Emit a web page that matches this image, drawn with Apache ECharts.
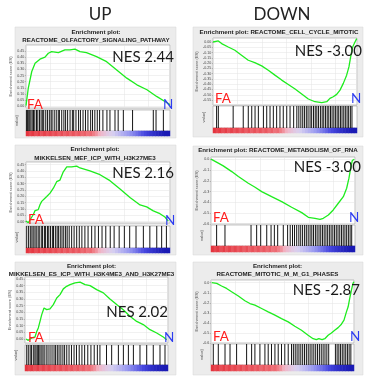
<!DOCTYPE html>
<html>
<head>
<meta charset="utf-8">
<script src="https://cdn.jsdelivr.net/npm/echarts@6/dist/echarts.min.js"></script>
<style>
  html, body { margin: 0; padding: 0; background: #fff; }
  #chart { width: 371px; height: 377px; }
</style>
</head>
<body>
<div id="chart"></div>
<script>
// --- data ---
const columnTitles = ['UP', 'DOWN'];
const groupLabels = ['FA', 'N'];
const setNames = [
  'REACTOME_OLFACTORY_SIGNALING_PATHWAY',
  'REACTOME_CELL_CYCLE_MITOTIC',
  'MIKKELSEN_MEF_ICP_WITH_H3K27ME3',
  'REACTOME_METABOLISM_OF_RNA',
  'MIKKELSEN_ES_ICP_WITH_H3K4ME3_AND_H3K27ME3',
  'REACTOME_MITOTIC_M_M_G1_PHASES'
];
const nesValues = [2.44, -3.00, 2.16, -3.00, 2.02, -2.87];

// running enrichment score: [position in ranked list (%), ES]
const esOlfactory = [[0,0.006],[1.6,0.149],[4,0.283],[6.3,0.35],[9.7,0.383],[13.2,0.399],[15.5,0.431],[17.8,0.444],[22.5,0.436],[27,0.458],[30.5,0.458],[34,0.464],[35.2,0.472],[37.5,0.444],[42,0.436],[49,0.404],[56,0.363],[63,0.296],[70,0.229],[77,0.175],[84,0.135],[90.7,0.081],[96.5,0.04],[100,0.014]];
const esCellCycle = [[0,0],[3.7,0.01],[6,-0.015],[10.6,-0.047],[15.2,-0.078],[19.8,-0.125],[24.5,-0.173],[29,-0.195],[33.8,-0.226],[38.4,-0.267],[43,-0.314],[47.7,-0.361],[52.3,-0.402],[57,-0.446],[61.6,-0.493],[66.2,-0.54],[70.8,-0.566],[75.5,-0.575],[79,-0.566],[81.2,-0.534],[83.5,-0.519],[85.9,-0.496],[88.2,-0.456],[90.5,-0.392],[92.8,-0.314],[94.4,-0.236],[95.6,-0.141],[97,-0.047],[98.6,0],[99.8,0.032]];
const esMefIcp = [[0,0.005],[1.6,-0.008],[2.8,0],[5.1,0.057],[6.3,0.088],[8.5,0.095],[9.7,0.134],[10.9,0.16],[12,0.173],[14.4,0.199],[16.7,0.225],[19,0.264],[21.3,0.315],[23.6,0.328],[25.9,0.393],[28.3,0.431],[29.4,0.439],[31.7,0.431],[35.2,0.437],[37.5,0.423],[44.4,0.4],[51.4,0.37],[58.3,0.323],[65.3,0.257],[72.2,0.19],[79.2,0.132],[83.8,0.117],[88.4,0.085],[93,0.063],[96.5,0.037],[98.8,0.005]];
const esRna = [[0,0],[5.1,-0.037],[8.5,-0.062],[9.7,-0.074],[14.4,-0.115],[19,-0.161],[25.9,-0.223],[30.6,-0.26],[35.2,-0.3],[42.1,-0.347],[49.1,-0.393],[56,-0.445],[63,-0.495],[67.6,-0.538],[72.2,-0.547],[75.7,-0.557],[78,-0.547],[81.5,-0.517],[84.9,-0.47],[88.4,-0.408],[91.9,-0.347],[94.2,-0.269],[95.8,-0.176],[97,-0.083],[98.1,-0.013],[99.5,0]];
const esEsIcp = [[0.7,0],[2.3,-0.01],[4.7,0.008],[7,0.015],[8.2,0.057],[9.3,0.083],[10.5,0.132],[11.7,0.183],[13.3,0.233],[15.2,0.22],[17.5,0.226],[19.8,0.258],[22.2,0.308],[24.5,0.333],[26.8,0.376],[29.1,0.395],[31.5,0.408],[35,0.421],[38.5,0.426],[42,0.408],[45.5,0.4],[50.1,0.37],[54.8,0.346],[59.4,0.3],[64.1,0.258],[68.7,0.22],[73.4,0.17],[78.1,0.132],[82.7,0.108],[87.4,0.07],[92.1,0.045],[96.7,0.015],[99.1,-0.005]];
const esMitoticM = [[0.5,0],[4,-0.007],[7.4,-0.033],[10.9,-0.057],[14.4,-0.09],[19.1,-0.133],[23.7,-0.18],[27.2,-0.207],[30.7,-0.223],[35.4,-0.257],[40,-0.29],[44.7,-0.323],[49.3,-0.357],[54,-0.39],[58.6,-0.433],[63.3,-0.473],[67.9,-0.523],[71.4,-0.557],[73.7,-0.567],[75.4,-0.557],[77.7,-0.567],[79.6,-0.557],[81.9,-0.523],[84.2,-0.5],[86.5,-0.473],[88.9,-0.447],[91.2,-0.413],[93,-0.373],[94.7,-0.29],[95.9,-0.24],[97,-0.157],[98.2,-0.073],[99.3,-0.007],[100,0.01]];

// gene set hits (position in ranked list, %)
const hitsOlfactory = [0.4,1.1,1.9,2.6,3.4,4.3,5.2,6.1,7.3,8.2,9.4,10.5,11.6,12.3,13.7,14.9,16.2,17.4,18.1,19.6,21.0,22.4,23.2,24.8,26.3,27.5,28.9,30.6,32.2,33.1,34.7,36.5,37.8,39.6,41.3,43.0,44.9,46.2,47.8,49.5,51.1,53.4,56.2,58.3,61.8,64.0,67.6,74.0,88.4,90.3,95.4];
const hitsCellCycle = [2.5,3.7,14.0,21.0,24.5,26.9,29.2,31.5,35.0,37.3,39.6,41.9,44.2,46.5,48.8,51.2,53.5,56.0,58.2,59.6,61.0,62.3,63.5,64.8,66.0,67.4,68.5,69.8,71.0,72.1,73.3,74.6,75.8,76.9,78.1,79.3,80.4,81.6,82.7,83.9,85.0,86.2,87.3,88.5,89.6,90.8,91.9,93.1,94.2,95.4,96.5];
const hitsMefIcp = [0.5,1.8,3.0,4.1,5.0,6.2,7.1,8.4,9.2,10.6,11.5,12.8,13.6,14.9,15.8,17.0,18.3,19.1,20.4,21.6,22.5,23.8,25.0,26.2,27.5,28.6,30.0,31.7,33.4,35.2,37.0,38.8,40.9,43.1,45.6,47.9,50.3,52.8,55.4,58.5,61.2,64.7,68.3,72.0,76.4,81.5,86.0,90.8,94.2,97.5];
const hitsRna = [3.9,9.7,27.8,31.7,34.5,38.7,41.7,44.0,46.3,50.2,53.2,55.0,56.6,58.0,59.5,61.0,62.3,63.6,65.0,66.2,67.5,68.8,70.0,71.2,72.5,73.7,75.0,76.2,77.4,78.6,79.8,81.0,82.2,83.4,84.6,85.8,87.0,88.2,89.4,90.6,91.8,93.0,94.2,95.4,96.6,97.7];
const hitsEsIcp = [1.2,2.3,3.6,4.5,5.8,6.9,7.7,8.6,9.5,10.4,11.3,12.5,13.4,14.8,16.1,17.5,18.9,20.3,21.4,22.6,23.8,25.1,26.5,27.7,29.2,30.8,32.5,34.3,36.0,37.9,39.8,41.7,43.9,46.1,48.4,50.6,52.4,57.0,60.6,65.3,68.8,72.3,75.8,80.4,85.1,89.7,94.4,97.9];
const hitsMitoticM = [1.6,5.1,9.8,13.3,17.9,24.9,28.4,30.7,34.2,37.7,40.0,42.3,44.7,47.0,49.3,51.6,54.0,56.3,57.6,58.9,60.2,61.5,62.8,64.1,65.4,66.7,68.0,69.3,70.6,71.9,73.2,74.5,75.8,77.1,78.4,79.7,81.0,82.3,87.0,88.2,89.4,90.6,91.8,93.0,94.2,95.4,96.6,97.8];

// ranked list metric, binned (FA positive -> N negative)
const rankBins = Array.from({ length: 50 }, (_, i) => i);
const rankMetric = [1.0,0.9,0.97,0.86,0.95,0.84,0.92,0.82,0.9,0.8,0.88,0.78,0.86,0.76,0.84,0.74,0.82,0.72,0.8,0.7,0.76,0.66,0.7,0.6,0.5,0.36,0.26,0.18,0.1,0.04,-0.02,-0.08,-0.14,-0.2,-0.26,-0.32,-0.38,-0.44,-0.5,-0.56,-0.62,-0.68,-0.74,-0.8,-0.85,-0.9,-0.94,-0.97,-0.99,-1.0];

// y tick labels
const esTicksUp = [0, 0.05, 0.1, 0.15, 0.2, 0.25, 0.3, 0.35, 0.4, 0.45];
const esTicksDownFine = [0, -0.05, -0.1, -0.15, -0.2, -0.25, -0.3, -0.35, -0.4, -0.45, -0.5, -0.55];
const esTicksDown = [0, -0.1, -0.2, -0.3, -0.4, -0.5, -0.6];

// --- layout (pixels) ---
const layout = [
  { box: [15, 27, 161, 111], tx: 96, ty: [32.5, 40.5], plot: [26, 45, 144, 63], bar: [110, 21], heat: [131, 5], y: [-0.013, 0.498], nes: [174, 57.5], fa: [27, 105], n: [163, 105] },
  { box: [193, 27, 170, 110], tx: 279, ty: [32.5], plot: [213, 38, 144, 67], bar: [106, 22], heat: [128, 5], y: [-0.597, 0.038], nes: [362, 51], fa: [215, 99], n: [351, 99] },
  { box: [15, 145, 161, 110], tx: 95, ty: [149.5, 158], plot: [26, 162, 144, 61], bar: [226, 22], heat: [248, 5], y: [-0.01, 0.47], nes: [174, 173], fa: [28, 220], n: [165, 220.5] },
  { box: [193, 146, 170, 109], tx: 278, ty: [150.5], plot: [211, 157, 144, 67], bar: [225, 21], heat: [246, 6], y: [-0.6, 0.02], nes: [361, 167.5], fa: [213, 218], n: [349, 218] },
  { box: [15, 262, 161, 113], tx: 91.5, ty: [266.5, 274.5], plot: [25, 277, 143, 66], bar: [345, 20], heat: [365, 6], y: [-0.03, 0.465], nes: [168, 312.5], fa: [28, 337.5], n: [164, 337.5] },
  { box: [193, 262, 170, 113], tx: 277.5, ty: [266.5, 274.5], plot: [211, 280, 143, 63], bar: [344, 21], heat: [365, 6], y: [-0.6, 0.027], nes: [360, 290], fa: [213, 337], n: [350, 337] }
];

const esCurves = [esOlfactory, esCellCycle, esMefIcp, esRna, esEsIcp, esMitoticM];
const hitSets = [hitsOlfactory, hitsCellCycle, hitsMefIcp, hitsRna, hitsEsIcp, hitsMitoticM];
const tickSets = [esTicksUp, esTicksDownFine, esTicksUp, esTicksDown, esTicksUp, esTicksDown];
const tickDigits = [2, 2, 2, 1, 2, 1];

const smallFont = 'Liberation Sans';
const bigFont = 'Lato';
const gridLine = { color: '#e2e2e2', width: 0.5 };

const grid = [], xAxis = [], yAxis = [], series = [], graphic = [];

layout.forEach((L, i) => {
  const [pl, pt, pw, ph] = L.plot;
  const g = i * 3;

  grid.push({ left: pl, top: pt, width: pw, height: ph, show: true, backgroundColor: '#fff', borderColor: '#a0a0a0', borderWidth: 0.6 });
  grid.push({ left: pl, top: L.bar[0], width: pw, height: L.bar[1], show: true, backgroundColor: '#fff', borderColor: '#a0a0a0', borderWidth: 0.6 });
  grid.push({ left: pl, top: L.heat[0], width: pw, height: L.heat[1] });

  xAxis.push({ gridIndex: g, type: 'value', min: 0, max: 100, interval: 17,
    axisLabel: { show: false }, axisTick: { show: false }, axisLine: { show: false },
    splitLine: { lineStyle: gridLine } });
  xAxis.push({ gridIndex: g + 1, type: 'value', min: 0, max: 100, show: false });
  xAxis.push({ gridIndex: g + 2, type: 'category', data: rankBins, show: false });

  yAxis.push({ gridIndex: g, type: 'value', min: L.y[0], max: L.y[1],
    name: 'Enrichment score (ES)', nameLocation: 'middle', nameGap: 8.5,
    nameTextStyle: { fontSize: 4, color: '#555', fontFamily: smallFont },
    axisLine: { show: false },
    axisTick: { customValues: tickSets[i], length: 1.2, lineStyle: { color: '#888', width: 0.5 } },
    axisLabel: { customValues: tickSets[i], fontSize: 3.6, color: '#444', margin: 1.8, fontFamily: smallFont,
      formatter: v => v.toFixed(tickDigits[i]) },
    splitLine: { lineStyle: gridLine } });
  yAxis.push({ gridIndex: g + 1, type: 'value', min: 0, max: 1,
    name: 'value)', nameLocation: 'middle', nameGap: 7,
    nameTextStyle: { fontSize: 4, color: '#555', fontFamily: smallFont },
    axisLine: { show: false }, axisTick: { show: false }, axisLabel: { show: false }, splitLine: { show: false } });
  yAxis.push({ gridIndex: g + 2, type: 'category', data: ['metric'], show: false });

  series.push({ type: 'line', xAxisIndex: g, yAxisIndex: g, data: esCurves[i], showSymbol: false,
    lineStyle: { color: '#1eec1e', width: 1.3 }, silent: true });
  series.push({ type: 'bar', xAxisIndex: g + 1, yAxisIndex: g + 1, data: hitSets[i].map(h => [h, 1]),
    barWidth: 1, itemStyle: { color: '#151515' }, silent: true });
  series.push({ type: 'heatmap', xAxisIndex: g + 2, yAxisIndex: g + 2,
    data: rankMetric.map((v, k) => [k, 0, v]), silent: true });

  // panel background
  graphic.push({ type: 'rect', z: -5, shape: { x: L.box[0], y: L.box[1], width: L.box[2], height: L.box[3] },
    style: { fill: '#ececec', stroke: '#d6d6d6', lineWidth: 0.5 } });

  // titles
  const lines = L.ty.length === 2 ? ['Enrichment plot:', setNames[i]] : ['Enrichment plot: ' + setNames[i]];
  lines.forEach((t, k) => {
    graphic.push({ type: 'text', z: 20, x: L.tx, y: L.ty[k],
      style: { text: t, fill: '#222', fontSize: 6.2, fontWeight: 'bold', fontFamily: smallFont,
        textAlign: 'center', textVerticalAlign: 'middle' } });
  });

  const nesText = 'NES ' + nesValues[i].toFixed(2);
  graphic.push({ type: 'text', z: 20, x: L.nes[0], y: L.nes[1],
    style: { text: nesText, fill: '#1a1a1a', fontSize: 15, fontFamily: bigFont,
      textAlign: 'right', textVerticalAlign: 'middle' } });
  graphic.push({ type: 'text', z: 20, x: L.fa[0], y: L.fa[1],
    style: { text: groupLabels[0], fill: '#ff1f1f', fontSize: 13.5, fontFamily: bigFont,
      textAlign: 'left', textVerticalAlign: 'middle' } });
  graphic.push({ type: 'text', z: 20, x: L.n[0], y: L.n[1],
    style: { text: groupLabels[1], fill: '#2d3cf0', fontSize: 13.5, fontFamily: bigFont,
      textAlign: 'left', textVerticalAlign: 'middle' } });
});

graphic.push({ type: 'text', z: 20, x: 100, y: 14.5,
  style: { text: columnTitles[0], fill: '#222', fontSize: 17, fontFamily: bigFont, textAlign: 'center', textVerticalAlign: 'middle' } });
graphic.push({ type: 'text', z: 20, x: 282, y: 14.5,
  style: { text: columnTitles[1], fill: '#222', fontSize: 17, fontFamily: bigFont, textAlign: 'center', textVerticalAlign: 'middle' } });

const chart = echarts.init(document.getElementById('chart'));
chart.setOption({
  animation: false,
  backgroundColor: '#fff',
  grid, xAxis, yAxis, series, graphic,
  visualMap: {
    type: 'continuous', show: false, min: -1, max: 1,
    seriesIndex: series.map((s, k) => s.type === 'heatmap' ? k : -1).filter(k => k >= 0),
    inRange: { color: ['#1a1ab4', '#4848e0', '#9a9af0', '#d8d0f0', '#f2b4c4', '#ee7078', '#e4343e'] }
  }
});
</script>
</body>
</html>
